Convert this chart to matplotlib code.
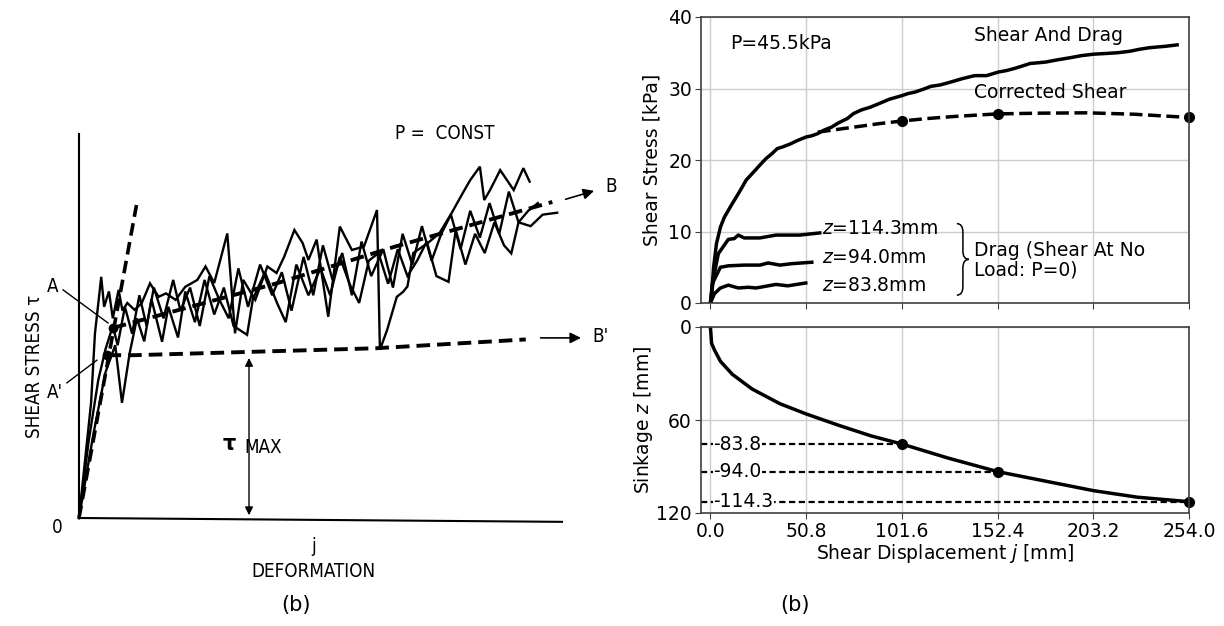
import numpy as np
import matplotlib
matplotlib.use("Agg")
import matplotlib.pyplot as plt
from matplotlib.path import Path
from matplotlib.patches import PathPatch
from matplotlib import font_manager

# ---------------- left panel (sketch): shear stress vs deformation ----------------
# three noisy test records (deformation j, shear stress tau), arbitrary units 0..100
rec1_j = [0, 2.5, 3.3, 4.6, 5.2, 6.2, 7.0, 8.2, 9.0, 10.0, 11.5, 13.0, 14.7, 16.5, 18.0, 20.0,
          22.0, 24.5, 26.2, 28.0, 30.7, 32.3, 34.0, 36.5, 39.0, 40.9, 42.5, 44.6, 46.3, 47.5,
          49.2, 51.6, 54.0, 56.5, 59.0, 61.7, 62.3, 63.8, 65.8, 67.1, 68.0, 69.2, 72.2, 74.6,
          77.1, 79.4, 81.0, 83.0, 83.9, 85.1, 87.2, 90.0, 92.0, 93.3]
rec1_tau = [0, 30, 48, 62.8, 55, 59, 52, 59.4, 54, 56, 54.2, 56, 61.1, 57.6, 58.5, 56.8,
            60.2, 62, 65.5, 61.2, 74.1, 48.1, 62, 56.8, 65.5, 63.8, 68.1, 75, 71.6, 67.2,
            72.5, 52.4, 75.9, 69.8, 70.7, 80.2, 43.8, 49, 57.6, 58.9, 60.3, 69, 71.6, 74.1,
            79.3, 84.5, 88, 91.5, 82.8, 85.4, 90.6, 85.4, 91.1, 87.6]
rec2_j = [0, 2.0, 4.0, 5.5, 7.0, 8.0, 9.5, 11.0, 12.5, 14.0, 15.5, 17.5, 19.5, 21.0, 23.0,
          25.0, 27.0, 29.0, 31.0, 33.0, 35.0, 37.5, 40.0, 42.0, 44.0, 46.5, 48.5, 50.5, 52.5,
          54.5, 56.5, 58.5, 60.5, 63.0, 65.0, 67.0, 69.0, 71.0, 73.0, 75.0, 77.0, 79.0, 81.0,
          83.0, 85.0, 87.0, 89.0, 91.0, 93.5, 96.0, 99.0]
rec2_tau = [0, 20, 36, 44, 50, 45, 55, 48, 58, 50, 60, 52, 62, 54, 60, 50, 63, 57, 52, 65,
            55, 66, 58, 64, 54, 68, 58, 71, 62, 69, 58, 72, 63, 70, 60, 74, 66, 76, 67, 74,
            79, 70, 80, 73, 82, 74, 85, 77, 76, 79, 79.5]
rec3_j = [0, 3.0, 5.5, 7.5, 8.9, 10.5, 12.0, 13.5, 15.0, 17.2, 18.5, 20.5, 22.0, 24.0, 26.0,
          28.0, 30.0, 32.0, 34.8, 36.0, 38.5, 41.0, 42.8, 45.0, 47.5, 50.0, 52.0, 54.0, 56.0,
          58.0, 60.0, 62.0, 64.0, 66.0, 68.0, 70.0, 72.0, 74.0, 76.5, 78.0, 80.0, 82.0, 84.0,
          86.0, 88.0, 89.5, 91.0, 93.0, 95.0]
rec3_tau = [0, 22, 38, 45, 30, 43, 52, 46, 57, 45.9, 55, 47, 59, 51, 62, 53, 60, 50, 47.7,
            57, 64, 56, 51, 66, 58, 65, 58, 68, 61, 56, 67, 69, 61, 70, 63, 67, 72, 63, 61.5,
            75, 66, 74, 69, 77, 71, 68.9, 77, 80, 82]

# construction lines
initial_j = [0, 11.9]
initial_tau = [0, 81.5]
line_b_j = [7.0, 40.9, 65.5, 98.0]
line_b_tau = [49.5, 61.1, 70.7, 82.3]
line_bp_j = [5.9, 11.5, 61.4, 92.5]
line_bp_tau = [42.4, 42.4, 44.2, 46.5]
point_a = (7.0, 49.5)
point_ap = (5.9, 42.4)
tau_max_j = 35.2

# ---------------- right panel: measured curves ----------------
j_ticks = [0.0, 50.8, 101.6, 152.4, 203.2, 254.0]

shear_drag_j = [0, 0.4, 1.7, 3.2, 5.3, 7.4, 11.6, 15.3, 19.0, 22.5, 26.3, 29.5, 32.7, 35.5,
                38.0, 42.0, 46.0, 50.6, 54.0, 57.0, 60.5, 64.3, 68.0, 72.7, 76.0, 80.1, 85.0,
                89.6, 95.0, 101.6, 105.0, 108.6, 113.0, 117.0, 122.0, 127.5, 134.0, 140.2,
                146.5, 152.8, 157.0, 161.3, 165.0, 169.7, 174.0, 178.0, 184.0, 190.8, 197.0,
                203.4, 210.0, 216.0, 222.4, 228.0, 232.9, 237.0, 241.4, 247.7]
shear_drag_tau = [0, 0.4, 5.0, 8.3, 10.6, 12.0, 13.9, 15.5, 17.2, 18.2, 19.3, 20.2, 20.9,
                  21.6, 21.8, 22.2, 22.7, 23.2, 23.4, 23.7, 24.2, 24.6, 25.2, 25.8, 26.5,
                  27.0, 27.4, 27.9, 28.5, 29.0, 29.3, 29.5, 29.9, 30.3, 30.5, 30.9, 31.4,
                  31.8, 31.8, 32.3, 32.5, 32.8, 33.1, 33.5, 33.6, 33.7, 34.0, 34.3, 34.6,
                  34.8, 34.9, 35.0, 35.2, 35.5, 35.7, 35.8, 35.9, 36.1]

corrected_j = [57, 68, 79, 90, 101.6, 115, 130, 152.4, 175, 200, 225, 254]
corrected_tau = [23.9, 24.3, 24.7, 25.1, 25.45, 25.8, 26.1, 26.45, 26.55, 26.6, 26.4, 25.95]
corrected_pts_j = [101.6, 152.4, 254.0]
corrected_pts_tau = [25.45, 26.45, 25.95]

drag_114_j = [0, 1.7, 4.2, 9.5, 12.6, 14.8, 17.9, 26.3, 34.8, 47.4, 58.0]
drag_114_tau = [0, 3.6, 6.9, 8.9, 9.0, 9.5, 9.1, 9.1, 9.5, 9.5, 9.8]
drag_94_j = [0, 1.0, 5.3, 9.5, 17.9, 26.3, 30.6, 36.9, 43.2, 53.8]
drag_94_tau = [0, 2.7, 5.0, 5.2, 5.3, 5.3, 5.6, 5.3, 5.5, 5.7]
drag_84_j = [0, 2.1, 5.3, 9.5, 14.8, 20.0, 24.2, 30.6, 34.8, 41.0, 50.6]
drag_84_tau = [0, 1.3, 2.1, 2.5, 2.1, 2.2, 2.1, 2.4, 2.6, 2.4, 2.8]
drag_labels = ["$z$=114.3mm", "$z$=94.0mm", "$z$=83.8mm"]
drag_label_tau = [10.4, 6.4, 2.5]

sink_j = [0, 0.3, 0.6, 2.1, 5.3, 11.6, 22.1, 36.9, 50.6, 68.5, 85.4, 101.6, 126.0,
          152.4, 173.9, 203.4, 226.6, 254.0]
sink_z = [0, 5, 10.5, 14.7, 22.1, 30.5, 40.0, 49.5, 56.0, 63.6, 70.3, 75.5, 84.5,
          93.3, 98.5, 105.6, 109.8, 112.7]
sink_pts_j = [101.6, 152.4, 254.0]
sink_pts_z = [75.5, 93.3, 112.7]
sink_labels = ["-83.8", "-94.0", "-114.3"]

W, H = 1224, 626
fig = plt.figure(figsize=(W / 100, H / 100), dpi=100)

# narrow lettering for the scanned sketch if a condensed face exists
names = {f.name for f in font_manager.fontManager.ttflist}
if "DejaVu Sans Condensed" in names or any(
        f.name == "DejaVu Sans" and f.stretch == "condensed" for f in font_manager.fontManager.ttflist):
    sk = dict(family="DejaVu Sans", stretch="condensed", fontsize=13.5, color="black")
elif "Liberation Sans Narrow" in names:
    sk = dict(family="Liberation Sans Narrow", fontsize=15, color="black")
else:
    sk = dict(family="Liberation Sans", fontsize=13, color="black")

# ---------------- left sketch ----------------
ax0 = fig.add_axes([79 / W, (H - 518) / H, (562 - 79) / W, (518 - 134) / H])
ax0.set_xlim(0, 100)
ax0.set_ylim(0, 100)
ax0.axis("off")

ax0.plot([0, 0], [0, 100], color="black", lw=1.5, clip_on=False)
ax0.plot([0, 100], [0, -1], color="black", lw=1.5, clip_on=False)

for jj, tt in [(rec1_j, rec1_tau), (rec2_j, rec2_tau), (rec3_j, rec3_tau)]:
    ax0.plot(jj, tt, color="black", lw=1.7, solid_joinstyle="miter", clip_on=False)

ax0.plot(initial_j, initial_tau, color="black", lw=2.6, dashes=(3.5, 1.8), clip_on=False)
ax0.plot(line_b_j, line_b_tau, color="black", lw=2.8, dashes=(3.5, 1.8), clip_on=False)
ax0.plot(line_bp_j, line_bp_tau, color="black", lw=2.8, dashes=(3.5, 1.8), clip_on=False)
ax0.plot(*point_a, "o", color="black", ms=6)
ax0.plot(*point_ap, "o", color="black", ms=6)

arrow = dict(arrowstyle="-|>", color="black", lw=1.2, mutation_scale=16)
ax0.annotate("", xy=(107.2, 85.4), xytext=(100.2, 82.8), arrowprops=arrow, annotation_clip=False)
ax0.annotate("", xy=(104.5, 46.9), xytext=(95.0, 46.9), arrowprops=arrow, annotation_clip=False)
ax0.annotate("", xy=(tau_max_j, 0), xytext=(tau_max_j, 42.4),
             arrowprops=dict(arrowstyle="<|-|>", color="black", lw=1.0, mutation_scale=12))

# leaders for A and A'
ax0.plot([-3.3, 6.0], [59.4, 50.8], color="black", lw=1.0, clip_on=False)
ax0.plot([-2.5, 3.7], [35.2, 41.1], color="black", lw=1.0, clip_on=False)

ax0.text(-5.4, 60.2, "A", ha="center", va="center", **sk)
ax0.text(-5.0, 32.8, "A'", ha="center", va="center", **sk)
ax0.text(110.2, 86.2, "B", ha="center", va="center", **sk)
ax0.text(108.0, 47.2, "B'", ha="center", va="center", **sk)
ax0.text(75.7, 100.2, "P =  CONST", ha="center", va="center", **sk)
ax0.text(31.2, 19.4, "τ", ha="center", va="center", fontsize=15, fontweight="bold")
ax0.text(34.2, 18.4, "MAX", ha="left", va="center", **sk)
ax0.text(48.5, -7.5, "j", ha="center", va="center", **sk)
ax0.text(48.5, -14.0, "DEFORMATION", ha="center", va="center", **sk)
ax0.text(-4.5, -2.5, "0", ha="center", va="center", **sk)
ax0.text(-9.3, 39.5, "SHEAR STRESS τ", rotation=90, ha="center", va="center", **sk)

# ---------------- right top: shear stress ----------------
ax1 = fig.add_axes([701 / W, (H - 303) / H, 488 / W, 286 / H])
ax2 = fig.add_axes([701 / W, (H - 513) / H, 488 / W, 186 / H])

RS = 13.5
for ax in (ax1, ax2):
    ax.set_xlim(-5, 254)
    ax.set_xticks(j_ticks)
    ax.grid(True, color="0.8", lw=1.0)
    ax.set_axisbelow(True)
    ax.tick_params(labelsize=RS, length=4, color="0.25", pad=2.5)
    for s in ax.spines.values():
        s.set_color("0.25")
        s.set_linewidth(1.2)

ax1.set_ylim(0, 40)
ax1.set_yticks([0, 10, 20, 30, 40])
ax1.set_xticklabels([])
ax1.plot(shear_drag_j, shear_drag_tau, color="black", lw=2.5)
ax1.plot(corrected_j, corrected_tau, color="black", lw=2.5, ls="--")
ax1.plot(corrected_pts_j, corrected_pts_tau, "o", color="black", ms=7, clip_on=False)
ax1.plot(drag_114_j, drag_114_tau, color="black", lw=2.5)
ax1.plot(drag_94_j, drag_94_tau, color="black", lw=2.5)
ax1.plot(drag_84_j, drag_84_tau, color="black", lw=2.5)
for lab, yy in zip(drag_labels, drag_label_tau):
    ax1.text(59, yy, lab, fontsize=RS, ha="left", va="center")

# brace spanning the drag labels
x0, xm, x1, y0, y1 = 130.8, 134.0, 137.2, 1.1, 11.1
ym, c = (y0 + y1) / 2, 1.2
verts = [(x0, y1), (xm, y1), (xm, y1 - c), (xm, ym + c), (xm, ym), (x1, ym),
         (xm, ym), (xm, ym - c), (xm, y0 + c), (xm, y0), (x0, y0)]
codes = [Path.MOVETO, Path.CURVE3, Path.CURVE3, Path.LINETO, Path.CURVE3, Path.CURVE3,
         Path.CURVE3, Path.CURVE3, Path.LINETO, Path.CURVE3, Path.CURVE3]
ax1.add_patch(PathPatch(Path(verts, codes), fill=False, lw=1.1, color="black"))

ax1.text(140, 6.0, "Drag (Shear At No\nLoad: P=0)", fontsize=RS, ha="left", va="center",
         linespacing=1.0)
ax1.text(10.5, 36.3, "P=45.5kPa", fontsize=RS, ha="left", va="center")
ax1.text(140, 37.4, "Shear And Drag", fontsize=RS, ha="left", va="center")
ax1.text(140, 29.4, "Corrected Shear", fontsize=RS, ha="left", va="center")
ax1.set_ylabel("Shear Stress [kPa]", fontsize=RS)
ax1.yaxis.set_label_coords(-0.08, 0.5)

# ---------------- right bottom: sinkage ----------------
ax2.set_ylim(120, 0)
ax2.set_yticks([0, 60, 120])
ax2.set_xticklabels([f"{v:.1f}" for v in j_ticks])
ax2.plot(sink_j, sink_z, color="black", lw=2.5)
for xx, zz, lab in zip(sink_pts_j, sink_pts_z, sink_labels):
    ax2.plot([-5, xx], [zz, zz], color="black", lw=1.6, dashes=(2.8, 1.6))
    ax2.text(1.6, zz, lab, fontsize=RS, ha="left", va="center",
             bbox=dict(facecolor="white", edgecolor="none", pad=0.3))
ax2.plot(sink_pts_j, sink_pts_z, "o", color="black", ms=7, clip_on=False)
ax2.set_ylabel("Sinkage $z$ [mm]", fontsize=RS)
ax2.yaxis.set_label_coords(-0.094, 0.5)
ax2.set_xlabel("Shear Displacement $j$ [mm]", fontsize=RS, labelpad=1)

fig.text(296 / W, 1 - 605 / H, "(b)", fontsize=15, ha="center", va="center")
fig.text(795 / W, 1 - 605 / H, "(b)", fontsize=15, ha="center", va="center")

fig.savefig("out.png", dpi=100)
plt.close(fig)
